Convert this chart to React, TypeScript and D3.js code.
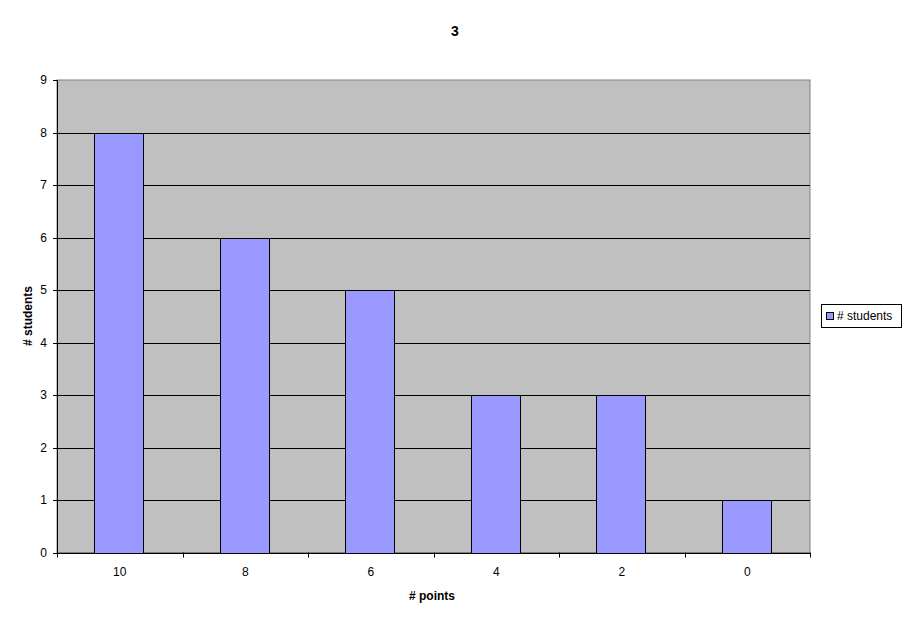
import React from "react";
import * as d3 from "d3";

const categories = ["10", "8", "6", "4", "2", "0"];
const students = [8, 6, 5, 3, 3, 1];
const yTicks = [0, 1, 2, 3, 4, 5, 6, 7, 8, 9];
const title = "3";
const seriesName = "# students";
const xTitle = "# points";
const yTitle = "# students";

export default function App() {
  const W = 911, H = 623;
  const left = 57, right = 810, top = 80, bottom = 552.5;
  const x = d3.scaleBand<string>().domain(categories).range([left, right]).paddingInner(0).paddingOuter(0);
  const y = d3.scaleLinear().domain([0, 9]).range([bottom, top]);
  const bw = x.bandwidth();
  const barW = bw * 0.39;
  const font = "Arial, 'Liberation Sans', sans-serif";
  return (
    <svg width={W} height={H} style={{ position: "absolute", left: 0, top: 0, background: "#fff" }} fontFamily={font}>
      <rect x={left} y={top} width={right - left} height={bottom - top} fill="#c0c0c0" stroke="#808080" strokeWidth={1} />
      {yTicks.filter(t => t > 0 && t < 9).map(t => (
        <line key={t} x1={left} x2={right} y1={Math.round(y(t)) + 0.5} y2={Math.round(y(t)) + 0.5} stroke="#000" strokeWidth={1} />
      ))}
      {students.map((v, i) => {
        const x0 = (x(categories[i]) as number) + (bw - barW) / 2 - 1;
        return (
          <rect key={i} x={Math.round(x0) + 0.5} y={Math.round(y(v)) + 0.5} width={Math.round(barW)} height={Math.round(bottom) - Math.round(y(v))} fill="#9999ff" stroke="#000" strokeWidth={1} />
        );
      })}
      <line x1={left + 0.5} x2={left + 0.5} y1={top} y2={bottom + 0.5} stroke="#000" />
      <line x1={left - 4} x2={right} y1={Math.round(bottom) + 0.5} y2={Math.round(bottom) + 0.5} stroke="#000" />
      {yTicks.map(t => (
        <g key={t}>
          <line x1={left - 4} x2={left} y1={Math.round(y(t)) + 0.5} y2={Math.round(y(t)) + 0.5} stroke="#000" />
          <text x={47} y={y(t)} dy="0.35em" textAnchor="end" fontSize={12}>{t}</text>
        </g>
      ))}
      {categories.map((c, i) => (
        <line key={"t" + i} x1={Math.round(x(c) as number) + 0.5} x2={Math.round(x(c) as number) + 0.5} y1={bottom} y2={bottom + 5} stroke="#000" />
      ))}
      <line x1={right + 0.5} x2={right + 0.5} y1={bottom} y2={bottom + 5} stroke="#000" />
      {categories.map((c, i) => (
        <text key={"l" + i} x={(x(c) as number) + bw / 2} y={572} dy="0.35em" textAnchor="middle" fontSize={12}>{c}</text>
      ))}
      <text x={455} y={31} dy="0.35em" textAnchor="middle" fontSize={14} fontWeight="bold">{title}</text>
      <text x={432} y={596} dy="0.35em" textAnchor="middle" fontSize={12} fontWeight="bold">{xTitle}</text>
      <text transform="translate(28,316) rotate(-90)" dy="0.35em" textAnchor="middle" fontSize={12} fontWeight="bold">{yTitle}</text>
      <rect x={821.5} y={304.5} width={80} height={23} fill="#fff" stroke="#000" />
      <rect x={826.5} y={312.5} width={7} height={7} fill="#9999ff" stroke="#000" />
      <text x={837} y={316} dy="0.35em" fontSize={12}>{seriesName}</text>
    </svg>
  );
}
